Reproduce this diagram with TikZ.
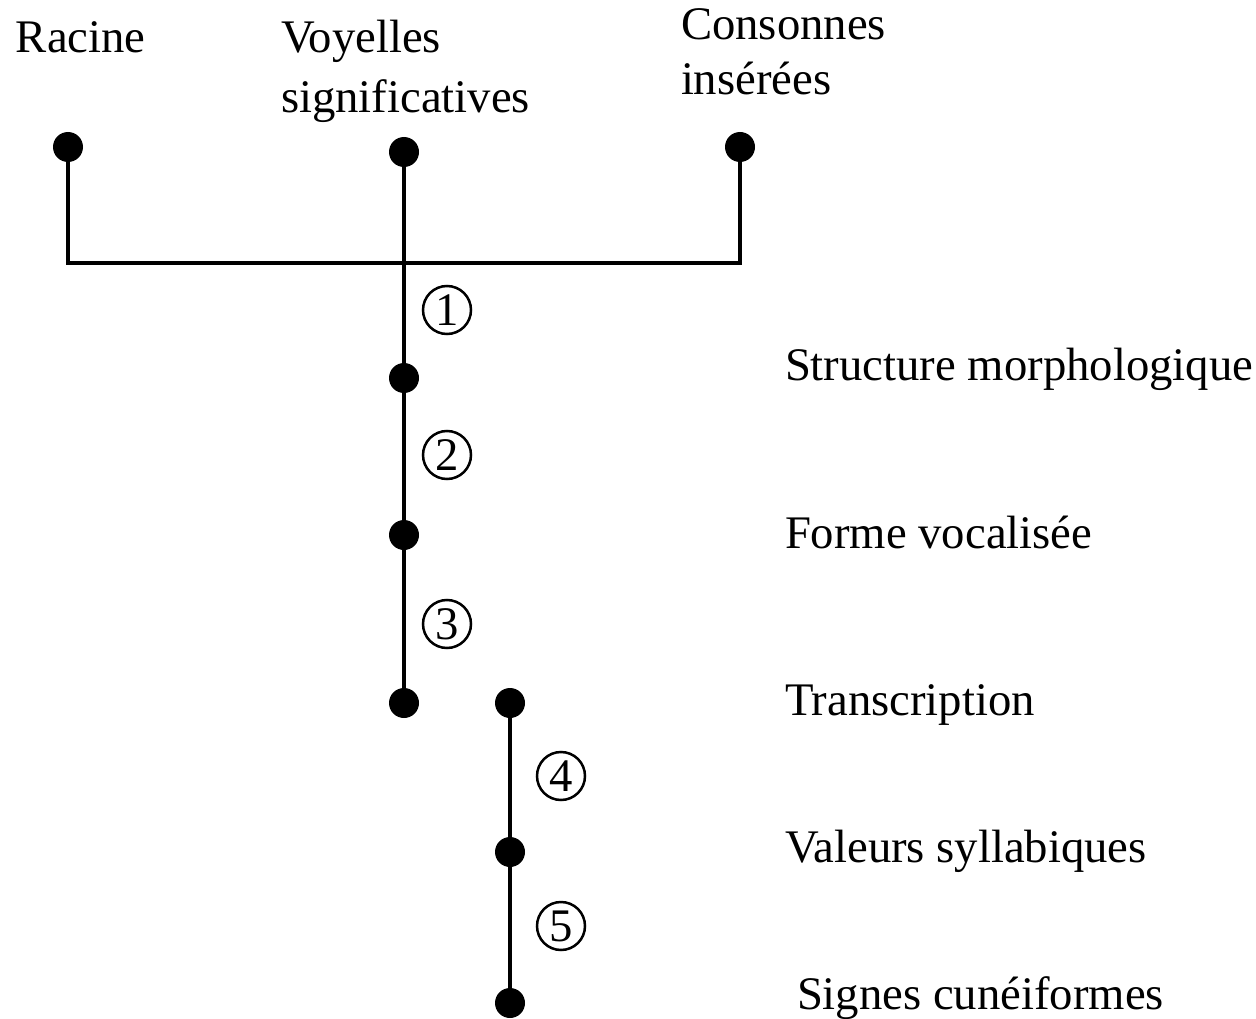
\documentclass[tikz,border=0pt]{standalone}
\usepackage{fontspec}
\setmainfont{Liberation Serif}
\usetikzlibrary{positioning}
\newcommand\labfont{\fontsize{46.7}{60}\selectfont}

\begin{document}
\begin{tikzpicture}[
    x=1pt, y=-1pt,
    line width=4pt,
    dot/.style={%
      circle,
      fill,
      inner sep=0pt,
      minimum size=30pt,
    },
    stepnum/.style={%
      circle,
      draw,
      line width=2.5pt,
      inner sep=0pt,
      minimum size=48pt,
      font=\labfont,
    },
    lab/.style={%
      anchor=base west,
      inner sep=0pt,
      align=left,
      font=\labfont,
    },
  ]
    \useasboundingbox (0,0) rectangle (1256,1019);

    % sources (base = last line)
    \node [lab] (racine) at (14,53) {Racine};
    \node [lab] (voy) at (279,113) {Voyelles\\significatives};
    \node [lab] (cons) at (679,95) {Consonnes\\[-5pt]ins\'er\'ees};

    \node [dot] (r) at (68,147) {};
    \node [dot] (v) at (404,152) {};
    \node [dot] (c) at (740,147) {};
    \coordinate (j) at (404,263);

    % main stem
    \node [dot] (m1) at (404,378) {};
    \node [dot] (m2) at (404,535) {};
    \node [dot] (m3) at (404,703) {};
    \node [dot] (t1) at (510,703) {};
    \node [dot] (t2) at (510,852) {};
    \node [dot] (t3) at (510,1003) {};

    \node [stepnum] (s1) at (447,310) {1};
    \node [stepnum] (s2) at (447,455) {2};
    \node [stepnum] (s3) at (447,624) {3};
    \node [stepnum] (s4) at (561,776) {4};
    \node [stepnum] (s5) at (561,926) {5};

    \node [lab] (l1) at (783,380) {Structure morphologique};
    \node [lab] (l2) at (783,548) {Forme vocalis\'ee};
    \node [lab] (l3) at (783,715) {Transcription};
    \node [lab] (l4) at (783,862) {Valeurs syllabiques};
    \node [lab] (l5) at (795,1009) {Signes cun\'eiformes};

    \draw (r.center) -- (r.center |- j) -- (c.center |- j) -- (c.center);
    \draw (v.center) -- (m3.center);
    \draw (t1.center) -- (t3.center);
\end{tikzpicture}
\end{document}
